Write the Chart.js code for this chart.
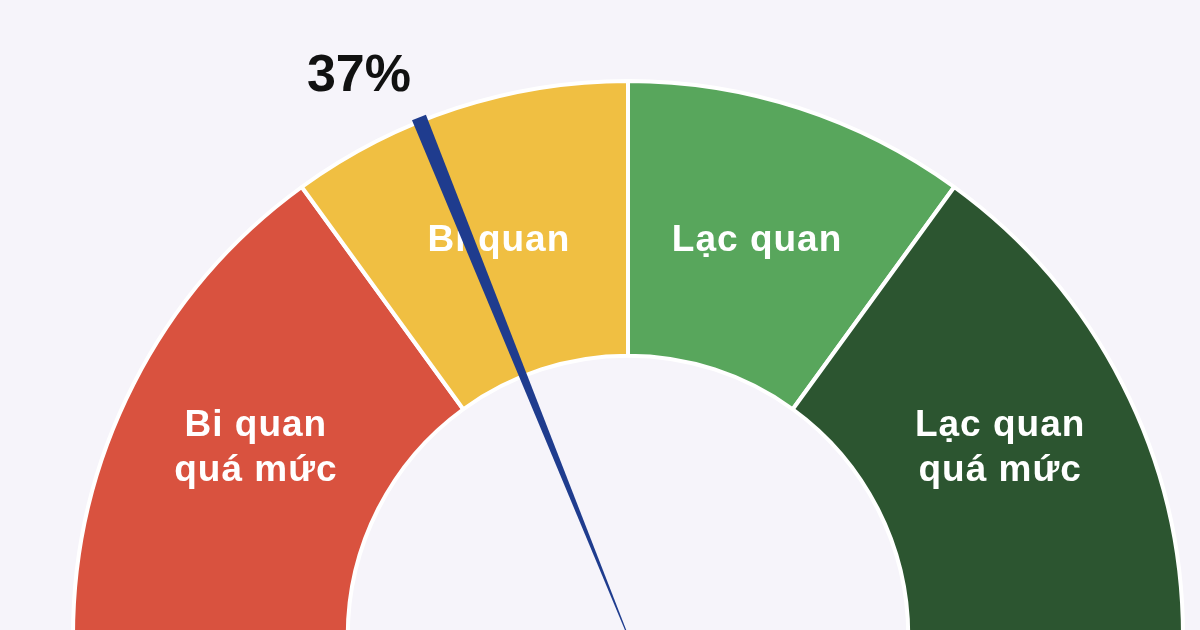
<!DOCTYPE html>
<html>
<head>
<meta charset="utf-8">
<script src="https://cdn.jsdelivr.net/npm/chart.js@4.4.0/dist/chart.umd.min.js"></script>
<style>
  html, body { margin: 0; padding: 0; background: #f6f4fa; overflow: hidden; }
  #wrap { position: absolute; left: 0; top: 0; width: 1200px; height: 660px; }
</style>
</head>
<body>
<div id="wrap"><canvas id="gauge" width="1200" height="660"></canvas></div>
<script>
// segments of the gauge (percent of the half circle)
const categories = [["Bi quan", "quá mức"], ["Bi quan"], ["Lạc quan"], ["Lạc quan", "quá mức"]];
const segmentValues = [30, 20, 20, 30];
const segmentColors = ["#d9523f", "#f0bf42", "#58a65c", "#2c5530"];

// needle reading and its label
const needleValue = [37.8];
const needleLabel = ["37%"];

const gaugePlugin = {
  id: "gauge",
  afterDatasetsDraw(chart) {
    const ctx = chart.ctx;
    const arcs = chart.getDatasetMeta(0).data;
    const cx = arcs[0].x, cy = arcs[0].y;
    const R = arcs[0].outerRadius, r = arcs[0].innerRadius;
    const total = segmentValues.reduce((a, b) => a + b, 0);

    // segment labels
    ctx.save();
    ctx.fillStyle = "#ffffff";
    ctx.font = "bold 37px 'Liberation Sans', Arial, sans-serif";
    ctx.letterSpacing = "1px";
    ctx.textAlign = "center";
    ctx.textBaseline = "middle";
    arcs.forEach((a, i) => {
      const mid = (a.startAngle + a.endAngle) / 2;
      const rr = (R + r) / 2;
      const x = cx + Math.cos(mid) * rr;
      const y = cy + Math.sin(mid) * rr + 2;
      const lines = categories[i];
      const lh = 45;
      lines.forEach((t, j) => {
        ctx.fillText(t, x, y + (j - (lines.length - 1) / 2) * lh);
      });
    });
    ctx.restore();

    // needle
    const ang = Math.PI + (needleValue[0] / total) * Math.PI;
    const dx = Math.cos(ang), dy = Math.sin(ang);
    const px = -dy, py = dx;
    const tipR = R + 4;
    const tx = cx + dx * tipR, ty = cy + dy * tipR;
    ctx.save();
    ctx.fillStyle = "#1f3c8e";
    ctx.beginPath();
    ctx.moveTo(cx + px * 0.5, cy + py * 0.5);
    ctx.lineTo(tx + px * 7.5, ty + py * 7.5);
    ctx.lineTo(tx - px * 7.5, ty - py * 7.5);
    ctx.lineTo(cx - px * 0.5, cy - py * 0.5);
    ctx.closePath();
    ctx.fill();

    // needle value label
    ctx.fillStyle = "#111111";
    ctx.font = "bold 52px 'Liberation Sans', Arial, sans-serif";
    ctx.textAlign = "center";
    ctx.textBaseline = "alphabetic";
    ctx.fillText(needleLabel[0], tx - 60, ty - 27);
    ctx.restore();
  }
};

new Chart(document.getElementById("gauge"), {
  type: "doughnut",
  data: {
    labels: categories.map((c) => c.join(" ")),
    datasets: [
      {
        data: segmentValues,
        backgroundColor: segmentColors,
        borderColor: "#ffffff",
        borderWidth: 4,
      },
    ],
  },
  options: {
    responsive: false,
    animation: false,
    rotation: -90,
    circumference: 180,
    radius: 555,
    cutout: "50.5%",
    layout: { padding: { left: 73, right: 17, top: 81, bottom: 24 } },
    plugins: {
      legend: { display: false },
      tooltip: { enabled: false },
    },
  },
  plugins: [gaugePlugin],
});
</script>
</body>
</html>
